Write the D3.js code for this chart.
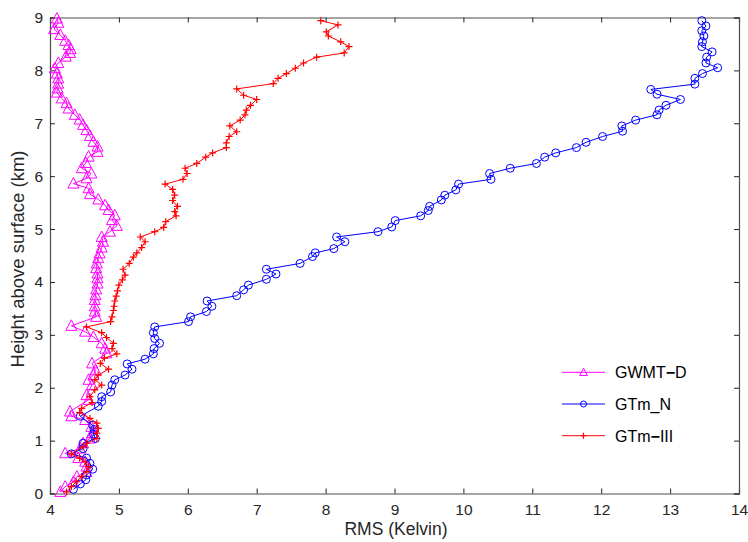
<!DOCTYPE html>
<html>
<head>
<meta charset="utf-8">
<script src="https://cdn.jsdelivr.net/npm/d3@7"></script>
<style>
  html, body { margin: 0; padding: 0; background: #fff; }
  svg { display: block; font-family: "Liberation Sans", Arial, sans-serif; }
</style>
</head>
<body>
<svg id="chart" width="748" height="542"></svg>
<script>
// RMS profiles (Kelvin) against height above surface (km)
const gwmtHeight = [0.03,0.13,0.22,0.32,0.41,0.51,0.60,0.67,0.76,0.85,0.95,1.04,1.14,1.26,1.39,1.46,1.55,1.77,1.86,2.05,2.15,2.24,2.33,2.46,2.65,2.74,2.84,2.96,3.06,3.17,3.34,3.44,3.54,3.66,3.75,3.86,3.97,4.07,4.16,4.26,4.35,4.45,4.54,4.65,4.76,4.85,4.95,5.06,5.17,5.26,5.36,5.45,5.56,5.66,5.77,5.86,5.96,6.05,6.15,6.25,6.37,6.46,6.56,6.65,6.76,6.87,6.97,7.07,7.16,7.28,7.38,7.47,7.58,7.66,7.75,7.85,7.94,8.04,8.14,8.26,8.33,8.40,8.48,8.56,8.67,8.78,8.90,8.98];
const gwmtRms    = [4.15,4.22,4.34,4.39,4.53,4.53,4.51,4.41,4.22,4.44,4.48,4.58,4.61,4.60,4.51,4.31,4.29,4.56,4.53,4.61,4.56,4.63,4.66,4.61,4.82,4.80,4.75,4.63,4.51,4.31,4.67,4.65,4.65,4.65,4.66,4.67,4.69,4.69,4.69,4.67,4.68,4.70,4.72,4.75,4.77,4.75,4.87,4.97,4.90,4.94,4.85,4.80,4.70,4.58,4.56,4.34,4.53,4.60,4.46,4.52,4.56,4.69,4.69,4.63,4.58,4.53,4.48,4.43,4.36,4.27,4.24,4.17,4.10,4.11,4.12,4.12,4.10,4.07,4.12,4.23,4.29,4.30,4.27,4.22,4.15,4.06,4.12,4.10];

const gtmNHeight = [0.08,0.18,0.26,0.35,0.46,0.57,0.67,0.75,0.85,0.95,1.04,1.12,1.21,1.29,1.46,1.65,1.74,1.83,1.92,2.05,2.15,2.24,2.35,2.45,2.54,2.64,2.74,2.84,2.93,3.04,3.15,3.25,3.34,3.44,3.54,3.64,3.74,3.85,3.94,4.05,4.15,4.24,4.35,4.48,4.55,4.63,4.76,4.85,4.95,5.04,5.16,5.25,5.35,5.43,5.55,5.64,5.74,5.85,5.94,6.05,6.15,6.24,6.36,6.44,6.54,6.64,6.75,6.85,6.95,7.06,7.16,7.25,7.34,7.45,7.55,7.64,7.74,7.85,7.94,8.05,8.14,8.25,8.35,8.45,8.54,8.65,8.75,8.84,8.94];
const gtmNRms    = [4.34,4.44,4.52,4.53,4.62,4.58,4.53,4.31,4.48,4.48,4.66,4.63,4.64,4.62,4.44,4.70,4.75,4.75,4.88,4.90,4.94,5.09,5.19,5.12,5.38,5.50,5.51,5.59,5.52,5.50,5.52,6.01,6.04,6.27,6.35,6.28,6.71,6.81,6.88,7.14,7.28,7.14,7.63,7.81,7.85,8.12,8.28,8.16,8.76,8.96,9.01,9.38,9.49,9.51,9.68,9.73,9.89,9.93,10.40,10.38,10.68,11.06,11.18,11.34,11.64,11.78,12.02,12.31,12.30,12.50,12.81,12.84,12.94,13.15,12.81,12.72,13.36,13.36,13.47,13.69,13.52,13.53,13.61,13.46,13.47,13.49,13.46,13.52,13.46];

const gtm3Height = [0.03,0.13,0.22,0.32,0.41,0.51,0.60,0.67,0.75,0.88,0.95,1.04,1.14,1.23,1.33,1.42,1.53,1.61,1.72,1.83,1.96,2.05,2.15,2.24,2.35,2.46,2.56,2.64,2.74,2.84,2.95,3.04,3.15,3.25,3.34,3.46,3.54,3.64,3.73,3.83,3.94,4.04,4.13,4.24,4.35,4.47,4.55,4.65,4.76,4.85,4.95,5.03,5.14,5.25,5.33,5.43,5.54,5.64,5.75,5.85,5.94,6.05,6.15,6.24,6.36,6.44,6.54,6.63,6.75,6.84,6.95,7.06,7.16,7.25,7.34,7.45,7.53,7.65,7.75,7.85,7.94,8.04,8.14,8.25,8.33,8.45,8.54,8.65,8.73,8.86,8.94];
const gtm3Rms    = [4.24,4.31,4.38,4.46,4.53,4.56,4.51,4.43,4.31,4.48,4.53,4.68,4.68,4.70,4.68,4.58,4.43,4.46,4.61,4.58,4.65,4.75,4.65,4.70,4.85,4.73,4.79,4.97,4.90,4.92,4.82,4.75,4.53,4.88,4.90,4.92,4.93,4.94,4.96,4.98,5.00,5.05,5.09,5.06,5.15,5.21,5.26,5.33,5.38,5.31,5.52,5.65,5.68,5.83,5.81,5.85,5.78,5.81,5.78,5.67,5.93,5.99,5.96,6.13,6.26,6.36,6.56,6.56,6.60,6.71,6.61,6.76,6.83,6.85,6.91,7.00,6.81,6.71,7.24,7.31,7.43,7.56,7.68,7.87,8.27,8.34,8.22,8.04,8.01,8.18,7.93];

const xTicks = [4,5,6,7,8,9,10,11,12,13,14];
const yTicks = [0,1,2,3,4,5,6,7,8,9];

// Legend names: prefix, separator, suffix (separator drawn as a heavy minus)
const seriesNames  = [["GWMT", "\u2212", "D"], ["GTm_N", "", ""], ["GTm", "\u2212", "III"]];
const seriesColors = ["#ff00ff", "#0000ff", "#ff0000"];
const seriesMarks  = ["triangle", "circle", "plus"];

const series = [
  { name: seriesNames[0], color: seriesColors[0], mark: seriesMarks[0], h: gwmtHeight, v: gwmtRms },
  { name: seriesNames[1], color: seriesColors[1], mark: seriesMarks[1], h: gtmNHeight, v: gtmNRms },
  { name: seriesNames[2], color: seriesColors[2], mark: seriesMarks[2], h: gtm3Height, v: gtm3Rms }
];

const svg = d3.select("#chart");
const plotLeft = 50, plotRight = 739, plotTop = 17.5, plotBottom = 493.5;

const x = d3.scaleLinear().domain([4, 14]).range([plotLeft, plotRight]);
const y = d3.scaleLinear().domain([0, 9]).range([plotBottom, plotTop]);

const frameColor = "#4d4d4d";
const textColor = "#262626";

// Plot frame with inward ticks on all four sides
const axes = svg.append("g").attr("class", "axes");
axes.append("g").attr("transform", `translate(0,${plotBottom})`)
  .call(d3.axisBottom(x).tickValues(xTicks).tickSize(-5).tickPadding(10).tickFormat(d3.format("d")));
axes.append("g").attr("transform", `translate(0,${plotTop})`)
  .call(d3.axisTop(x).tickValues(xTicks).tickSize(-5).tickFormat(""));
axes.append("g").attr("transform", `translate(${plotLeft},0)`)
  .call(d3.axisLeft(y).tickValues(yTicks).tickSize(-5).tickPadding(7).tickFormat(d3.format("d")));
axes.append("g").attr("transform", `translate(${plotRight},0)`)
  .call(d3.axisRight(y).tickValues(yTicks).tickSize(-5).tickFormat(""));
axes.selectAll(".domain").attr("stroke", frameColor).attr("stroke-width", 1.2);
axes.selectAll(".tick line").attr("stroke", "#222");
axes.selectAll(".tick text").attr("fill", textColor).style("font-size", "15.5px")
  .style("font-family", "\"Liberation Sans\", Arial, sans-serif");

// Axis titles
svg.append("text")
  .attr("x", 396).attr("y", 535)
  .attr("text-anchor", "middle").attr("fill", textColor)
  .style("font-size", "17.5px").text("RMS (Kelvin)");
svg.append("text")
  .attr("transform", `translate(24,259) rotate(-90)`)
  .attr("text-anchor", "middle").attr("fill", textColor)
  .style("font-size", "18.5px").text("Height above surface (km)");

function drawMarker(g, type, color, size) {
  if (type === "triangle") {
    const s = size;
    g.append("path")
      .attr("d", `M0,${-s * 0.6}L${s * 0.55},${s * 0.45}L${-s * 0.55},${s * 0.45}Z`)
      .attr("fill", "none").attr("stroke", color).attr("stroke-width", 1);
  } else if (type === "circle") {
    g.append("circle").attr("r", size / 2)
      .attr("fill", "none").attr("stroke", color).attr("stroke-width", 1);
  } else {
    const s = size / 2;
    g.append("path").attr("d", `M${-s},0H${s}M0,${-s}V${s}`)
      .attr("stroke", color).attr("stroke-width", 1.2);
  }
}

const line = d3.line().x(d => x(d[0])).y(d => y(d[1]));
const markerSize = { triangle: 10, circle: 8, plus: 7 };

// Red profile drawn last so it sits on top near the surface
series.forEach(s => {
  const pts = s.h.map((h, i) => [s.v[i], h]);
  const g = svg.append("g");
  g.append("path").datum(pts).attr("d", line)
    .attr("fill", "none").attr("stroke", s.color).attr("stroke-width", 1);
  g.selectAll("g.m").data(pts).join("g").attr("class", "m")
    .attr("transform", d => `translate(${x(d[0])},${y(d[1])})`)
    .each(function () { drawMarker(d3.select(this), s.mark, s.color, markerSize[s.mark]); });
});

// Legend
const legend = svg.append("g").attr("transform", "translate(562,372.3)");
series.forEach((s, i) => {
  const row = legend.append("g").attr("transform", `translate(0,${i * 31.7})`);
  row.append("line").attr("x1", 0).attr("x2", 43).attr("y1", 0).attr("y2", 0)
    .attr("stroke", s.color).attr("stroke-width", 1);
  const m = row.append("g").attr("transform", "translate(21.5,0)");
  drawMarker(m, s.mark, s.color, s.mark === "triangle" ? 7 : 6);
  const t = row.append("text").attr("x", 53).attr("y", 6)
    .attr("fill", "#000").style("font-size", "16px");
  t.append("tspan").text(s.name[0]);
  if (s.name[1]) {
    t.append("tspan").style("font-weight", "bold").text(s.name[1]);
    t.append("tspan").text(s.name[2]);
  }
});
</script>
</body>
</html>
